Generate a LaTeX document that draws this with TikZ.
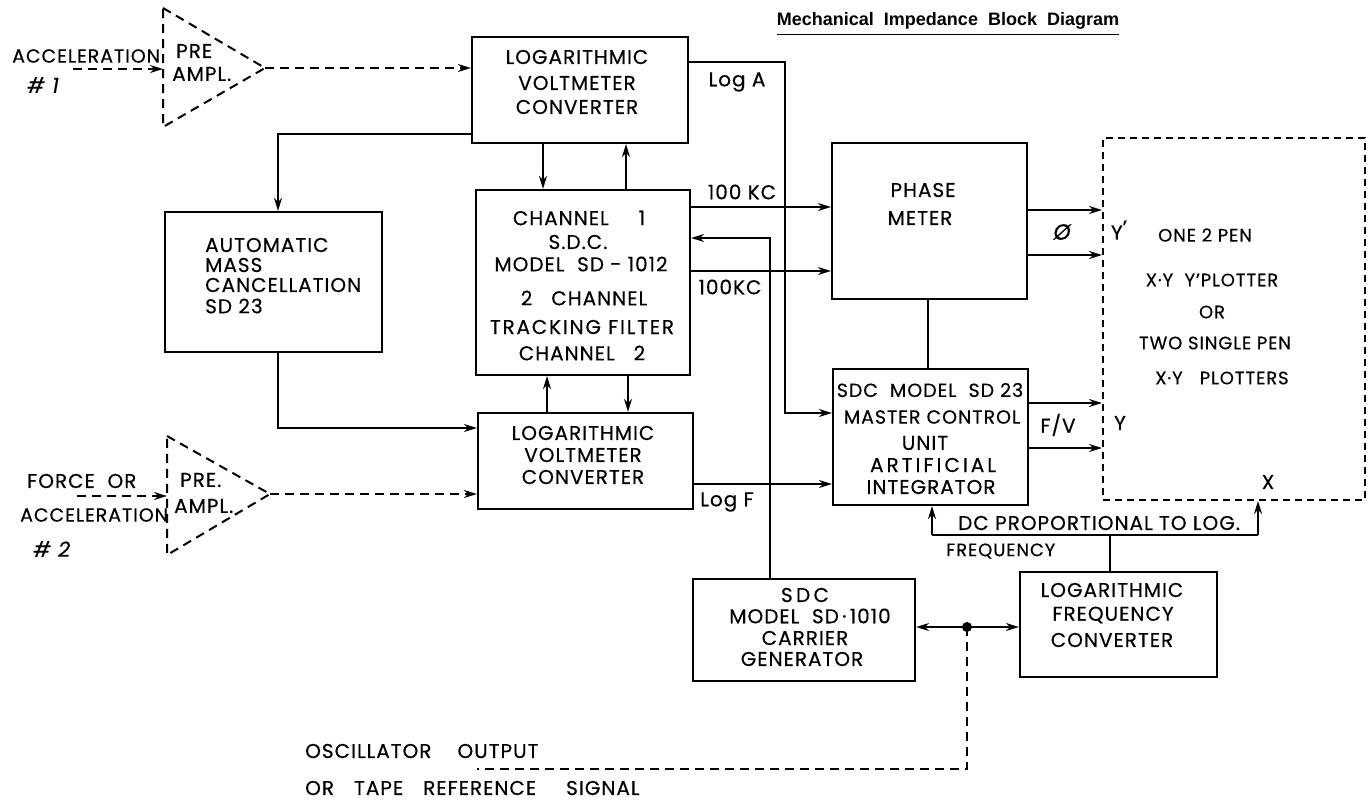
\documentclass[tikz,border=0pt]{standalone}
\usepackage{fontspec}
\setmainfont{Poppins}[LetterSpace=5, FakeBold=0.4]
\newfontfamily\titlefont{Liberation Sans}
\usetikzlibrary{arrows.meta}
\begin{document}
\begin{tikzpicture}[x=1pt,y=-1pt,
  box/.style={draw, line width=2.2pt, inner sep=0pt},
  dbox/.style={draw, line width=2pt, dash pattern=on 7pt off 5pt, inner sep=0pt},
  wire/.style={line width=2.1pt},
  dwire/.style={line width=2pt, dash pattern=on 9pt off 6pt},
  arr/.style={-{Stealth[length=13pt,width=8pt]}},
  lbl/.style={font=\fontsize{20}{20}\selectfont, inner sep=0pt},
  lbll/.style={lbl, anchor=west},
  sml/.style={font=\fontsize{18}{18}\selectfont, inner sep=0pt},
  side/.style={font=\fontsize{19}{19}\selectfont, inner sep=0pt, anchor=west}]
\useasboundingbox (0,0) rectangle (1372,802);

% title
\node[font=\titlefont\bfseries\fontsize{18}{18}\selectfont, inner sep=0pt] (title) at (948,21) {Mechanical\ \ Impedance\ \ Block\ \ Diagram};
\draw[line width=1.6pt] ([yshift=-5pt]title.south west) -- ([yshift=-5pt]title.south east);

% boxes
\node[box, minimum width=216pt, minimum height=106pt] (lv1) at (580,90) {};
\node[box, minimum width=214pt, minimum height=185pt] (ch) at (583,282.5) {};
\node[box, minimum width=215pt, minimum height=96pt] (lv2) at (585.5,461) {};
\node[box, minimum width=217pt, minimum height=140pt] (amc) at (273.5,282) {};
\node[box, minimum width=195pt, minimum height=156pt] (pm) at (929.5,221) {};
\node[box, minimum width=195pt, minimum height=136pt] (mc) at (930.5,437) {};
\node[dbox, minimum width=262pt, minimum height=362pt] (plot) at (1234,319) {};
\node[box, minimum width=222pt, minimum height=102pt] (cg) at (804,630) {};
\node[box, minimum width=197pt, minimum height=105pt] (lfc) at (1118.5,624.5) {};

% pre-amplifiers
\coordinate (p1a) at (163,8); \coordinate (p1b) at (163,127); \coordinate (p1t) at (265,68);
\draw[dwire] (p1a) -- (p1t) -- (p1b) -- cycle;
\coordinate (p2a) at (167,436); \coordinate (p2b) at (167,555); \coordinate (p2t) at (270,494);
\draw[dwire] (p2a) -- (p2t) -- (p2b) -- cycle;

% texts left
\node[side] (tacc1) at (12,56) {ACCELERATION};
\node[lbll, font=\fontsize{21}{21}\selectfont\itshape] (th1) at (27,85) {\# 1};
\node[lbll] (tpre1) at (176,51) {PRE};
\node[lbll] (tamp1) at (172,74) {AMPL.};
\node[lbll] (tforce) at (27,481) {FORCE\ \ OR};
\node[side] (tacc2) at (20,515) {ACCELERATION};
\node[lbll, font=\fontsize{21}{21}\selectfont\itshape] (th2) at (33,549) {\# 2};
\node[lbll] (tpre2) at (180,480) {PRE.};
\node[lbll] (tamp2) at (174,506) {AMPL.};

% box texts
\node[lbl] (l1a) at (577,57) {LOGARITHMIC};
\node[lbl] (l1b) at (577,83) {VOLTMETER};
\node[lbl] (l1c) at (577,107) {CONVERTER};

\node[lbl] (c1) at (579,218) {CHANNEL\hspace{30pt}1};
\node[lbl] (c2) at (578,242) {S.D.C.};
\node[lbl] (c3) at (581,264) {MODEL\ \ SD\ -\ 1012};
\node[lbl] (c4) at (584,298) {2\ \ \ CHANNEL};
\node[lbl, font=\fontsize{20}{20}\selectfont\addfontfeature{LetterSpace=9}] (c5) at (582,327) {TRACKING FILTER};
\node[lbl] (c6) at (582,353) {CHANNEL\ \ \ 2};

\node[lbl] (l2a) at (583,433) {LOGARITHMIC};
\node[lbl] (l2b) at (583,455) {VOLTMETER};
\node[lbl] (l2c) at (583,477) {CONVERTER};

\node[lbll] (m1) at (205,245) {AUTOMATIC};
\node[lbll] (m2) at (205,265) {MASS};
\node[lbll] (m3) at (205,285) {CANCELLATION};
\node[lbll] (m4) at (205,306) {SD\ 23};

\node[lbl] (pa) at (923,190) {PHASE};
\node[lbl] (pb) at (920,218) {METER};

\node[lbl, font=\fontsize{19}{19}\selectfont] (ma) at (930,390) {SDC\ \ MODEL\ \ SD 23};
\node[lbl, font=\fontsize{19}{19}\selectfont] (mb) at (932,417) {MASTER\ CONTROL};
\node[lbl] (mcc) at (925,443) {UNIT};
\node[lbl, font=\fontsize{20}{20}\selectfont\addfontfeature{LetterSpace=15}] (md) at (933,465) {ARTIFICIAL};
\node[lbl] (me) at (931,487) {INTEGRATOR};

\node[lbl] (g1) at (805,595) {S\,D\,C};
\node[lbl] (g2) at (810,616) {MODEL\ \ SD\,·\,1010};
\node[lbl] (g3) at (805,638) {CARRIER};
\node[lbl] (g4) at (802,659) {GENERATOR};

\node[lbl] (f1) at (1112,590) {LOGARITHMIC};
\node[lbl] (f2) at (1113,615) {FREQUENCY};
\node[lbl] (f3) at (1112,640) {CONVERTER};

\node[sml] (q1) at (1205,235) {ONE\ 2\ PEN};
\node[sml] (q2) at (1212,280) {X·Y\ \ Y'PLOTTER};
\node[sml] (q3) at (1212,312) {OR};
\node[sml] (q4) at (1215,343) {TWO SINGLE PEN};
\node[sml] (q5) at (1222,378) {X·Y\ \ \ PLOTTERS};

\node[lbl] (yp) at (1119,230) {Y\raisebox{5pt}{'}};
\node[lbl] (yy) at (1120,423) {Y};
\node[lbl] (xx) at (1268,482) {X};
\node[lbl, font=\fontsize{22}{22}\selectfont\itshape] (phi) at (1062,232) {Ø};
\node[lbl] (fv) at (1058,425) {F/V};

\node[lbl] (tla) at (737,82) {Log A};
\node[lbl] (tk1) at (742,192) {100 KC};
\node[lbl] (tk2) at (730,287) {100KC};
\node[lbl] (tlf) at (727,502) {Log F};

\node[lbll] (dc1) at (958,523) {DC\ PROPORTIONAL\ TO\ LOG.};
\node[sml, anchor=west] (dc2) at (946,551) {FREQUENCY};

\node[lbll] (os1) at (305,751) {OSCILLATOR\hspace{26pt}OUTPUT};
\node[lbll] (os2) at (305,788) {OR\hspace{20pt}TAPE\hspace{20pt}REFERENCE\hspace{30pt}SIGNAL};

% coordinates
\coordinate (xa) at (543,0); \coordinate (xb) at (626,0);
\coordinate (xc) at (547,0); \coordinate (xd) at (628,0);
\coordinate (xpm) at (928,0); \coordinate (xlf) at (1110,0);

% connectors
\coordinate (a1s) at (73,69);
\draw[dwire,arr] (a1s) -- (a1s -| p1a);
\draw[dwire,arr] (p1t) -- (p1t -| lv1.west);
\coordinate (k1) at (278,134);
\draw[wire,arr] (lv1.west |- k1) -- (k1) -- (k1 |- amc.north);
\draw[wire,arr] (lv1.south -| xa) -- (ch.north -| xa);
\draw[wire,arr] (ch.north -| xb) -- (lv1.south -| xb);
\coordinate (la1) at (785,62); \coordinate (la2) at (785,413);
\draw[wire,arr] (lv1.east |- la1) -- (la1) -- (la2) -- (la2 -| mc.west);
\coordinate (h1) at (760,207); \coordinate (h2) at (760,271);
\draw[wire,arr] (ch.east |- h1) -- (h1 -| pm.west);
\draw[wire,arr] (ch.east |- h2) -- (h2 -| pm.west);
\coordinate (cr1) at (770,238);
\draw[wire,arr] (cg.north -| cr1) -- (cr1) -- (cr1 -| ch.east);
\coordinate (k2) at (278,428);
\draw[wire,arr] (amc.south -| k2) -- (k2) -- (k2 -| lv2.west);
\draw[wire,arr] (lv2.north -| xc) -- (ch.south -| xc);
\draw[wire,arr] (ch.south -| xd) -- (lv2.north -| xd);
\coordinate (a2s) at (77,496);
\draw[dwire,arr] (a2s) -- (a2s -| p2a);
\draw[dwire,arr] (p2t) -- (p2t -| lv2.west);
\coordinate (lf) at (700,484);
\draw[wire,arr] (lv2.east |- lf) -- (lf -| mc.west);
\draw[wire] (pm.south -| xpm) -- (mc.north -| xpm);
\coordinate (o1) at (1050,210); \coordinate (o2) at (1050,255);
\coordinate (o3) at (1050,403); \coordinate (o4) at (1050,448);
\draw[wire,arr] (pm.east |- o1) -- (o1 -| plot.west);
\draw[wire,arr] (pm.east |- o2) -- (o2 -| plot.west);
\draw[wire,arr] (mc.east |- o3) -- (o3 -| plot.west);
\draw[wire,arr] (mc.east |- o4) -- (o4 -| plot.west);
\coordinate (bl) at (932,535); \coordinate (br) at (1258,535);
\draw[wire,arr] (bl) -- (bl |- mc.south);
\draw[wire] (bl) -- (br);
\draw[wire,arr] (br) -- (br |- plot.south);
\draw[wire] (lfc.north -| xlf) -- (bl -| xlf);
\coordinate (jn) at (967,627); \coordinate (jd) at (967,769); \coordinate (je) at (477,769);
\draw[dwire] (jn) -- (jd) -- (je);
\draw[wire,arr] (jn) -- (jn -| cg.east);
\draw[wire,arr] (jn) -- (jn -| lfc.west);
\fill (jn) circle (5pt);
\end{tikzpicture}
\end{document}
